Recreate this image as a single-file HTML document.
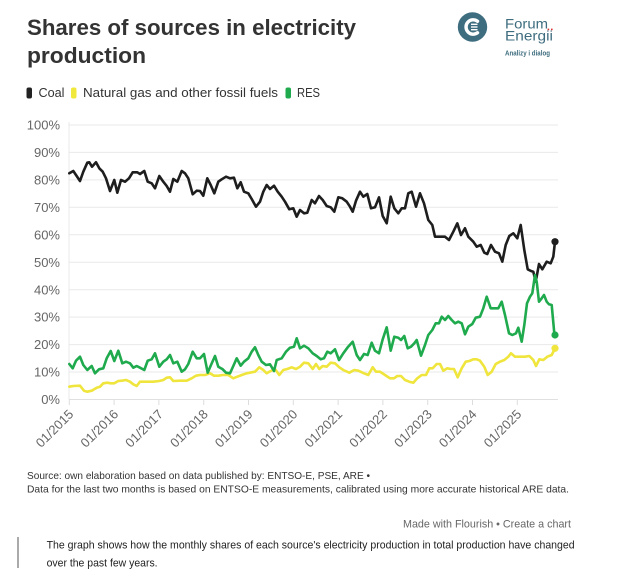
<!DOCTYPE html>
<html><head><meta charset="utf-8"><style>
html,body{margin:0;padding:0;background:#fff;}
svg{display:block;}
text{font-family:"Liberation Sans",sans-serif;}
</style></head><body>
<svg width="619" height="582" viewBox="0 0 619 582" xmlns="http://www.w3.org/2000/svg">
<rect width="619" height="582" fill="#fff"/>
<!-- Title -->
<text x="27" y="35" font-size="22" font-weight="bold" fill="#333" textLength="329" lengthAdjust="spacingAndGlyphs">Shares of sources in electricity</text>
<text x="27" y="63" font-size="22" font-weight="bold" fill="#333" textLength="119" lengthAdjust="spacingAndGlyphs">production</text>
<!-- Logo -->
<circle cx="472.5" cy="27" r="14.7" fill="#3e6d7f"/>
<path d="M477.5 21.2 A7.2 7.2 0 1 0 477.5 32.8" fill="none" stroke="#fff" stroke-width="3.4" stroke-linecap="round"/>
<rect x="471" y="23.6" width="6.5" height="1.4" fill="#fff"/>
<rect x="471" y="26.3" width="6.5" height="1.4" fill="#fff"/>
<rect x="471" y="29" width="6.5" height="1.4" fill="#fff"/>
<text x="505" y="28.3" font-size="14" fill="#3e6d7f" textLength="43" lengthAdjust="spacingAndGlyphs">Forum</text>
<text x="505" y="40.5" font-size="14" fill="#3e6d7f" textLength="48" lengthAdjust="spacingAndGlyphs">Energii</text>
<rect x="547.6" y="28.6" width="1.6" height="1.6" fill="#d33"/>
<rect x="551" y="28.6" width="1.6" height="1.6" fill="#d33"/>
<text x="505" y="55.5" font-size="7.5" font-weight="bold" fill="#3e6d7f" textLength="45" lengthAdjust="spacingAndGlyphs">Analizy i dialog</text>
<!-- Legend -->
<rect x="26.5" y="87.5" width="5.5" height="11" rx="2" fill="#222"/>
<text x="38.5" y="97" font-size="13" fill="#333" textLength="26" lengthAdjust="spacingAndGlyphs">Coal</text>
<rect x="71" y="87.5" width="5.5" height="11" rx="2" fill="#f0e83a"/>
<text x="83" y="97" font-size="13" fill="#333" textLength="195" lengthAdjust="spacingAndGlyphs">Natural gas and other fossil fuels</text>
<rect x="285.5" y="87.5" width="5.5" height="11" rx="2" fill="#1faa4d"/>
<text x="297" y="97" font-size="13" fill="#333" textLength="23" lengthAdjust="spacingAndGlyphs">RES</text>
<!-- Grid -->
<g stroke="#e9e9e9" stroke-width="1">
<line x1="69" y1="125" x2="558" y2="125"/>
<line x1="69" y1="152.4" x2="558" y2="152.4"/>
<line x1="69" y1="179.9" x2="558" y2="179.9"/>
<line x1="69" y1="207.3" x2="558" y2="207.3"/>
<line x1="69" y1="234.8" x2="558" y2="234.8"/>
<line x1="69" y1="262.2" x2="558" y2="262.2"/>
<line x1="69" y1="289.7" x2="558" y2="289.7"/>
<line x1="69" y1="317.1" x2="558" y2="317.1"/>
<line x1="69" y1="344.6" x2="558" y2="344.6"/>
<line x1="69" y1="372" x2="558" y2="372"/>
<line x1="69" y1="122" x2="69" y2="399.5"/>
</g>
<line x1="69" y1="399.5" x2="558" y2="399.5" stroke="#e0e0e0" stroke-width="1"/>
<g stroke="#ddd" stroke-width="1">
<line x1="69.3" y1="399.5" x2="69.3" y2="405"/>
<line x1="114.1" y1="399.5" x2="114.1" y2="405"/>
<line x1="158.9" y1="399.5" x2="158.9" y2="405"/>
<line x1="203.7" y1="399.5" x2="203.7" y2="405"/>
<line x1="248.5" y1="399.5" x2="248.5" y2="405"/>
<line x1="293.3" y1="399.5" x2="293.3" y2="405"/>
<line x1="338.1" y1="399.5" x2="338.1" y2="405"/>
<line x1="382.9" y1="399.5" x2="382.9" y2="405"/>
<line x1="427.7" y1="399.5" x2="427.7" y2="405"/>
<line x1="472.5" y1="399.5" x2="472.5" y2="405"/>
<line x1="517.3" y1="399.5" x2="517.3" y2="405"/>
</g>
<!-- Y labels -->
<g font-size="13" fill="#666" text-anchor="end">
<text x="60" y="129.6">100%</text>
<text x="60" y="157">90%</text>
<text x="60" y="184.5">80%</text>
<text x="60" y="211.9">70%</text>
<text x="60" y="239.4">60%</text>
<text x="60" y="266.8">50%</text>
<text x="60" y="294.3">40%</text>
<text x="60" y="321.7">30%</text>
<text x="60" y="349.2">20%</text>
<text x="60" y="376.6">10%</text>
<text x="60" y="404.1">0%</text>
</g>
<!-- X labels -->
<g font-size="13" fill="#666" text-anchor="end">
<text transform="translate(74.3,415) rotate(-45)" textLength="47" lengthAdjust="spacingAndGlyphs">01/2015</text>
<text transform="translate(119.1,415) rotate(-45)" textLength="47" lengthAdjust="spacingAndGlyphs">01/2016</text>
<text transform="translate(163.9,415) rotate(-45)" textLength="47" lengthAdjust="spacingAndGlyphs">01/2017</text>
<text transform="translate(208.7,415) rotate(-45)" textLength="47" lengthAdjust="spacingAndGlyphs">01/2018</text>
<text transform="translate(253.5,415) rotate(-45)" textLength="47" lengthAdjust="spacingAndGlyphs">01/2019</text>
<text transform="translate(298.3,415) rotate(-45)" textLength="47" lengthAdjust="spacingAndGlyphs">01/2020</text>
<text transform="translate(343.1,415) rotate(-45)" textLength="47" lengthAdjust="spacingAndGlyphs">01/2021</text>
<text transform="translate(387.9,415) rotate(-45)" textLength="47" lengthAdjust="spacingAndGlyphs">01/2022</text>
<text transform="translate(432.7,415) rotate(-45)" textLength="47" lengthAdjust="spacingAndGlyphs">01/2023</text>
<text transform="translate(477.5,415) rotate(-45)" textLength="47" lengthAdjust="spacingAndGlyphs">01/2024</text>
<text transform="translate(522.3,415) rotate(-45)" textLength="47" lengthAdjust="spacingAndGlyphs">01/2025</text>
</g>
<!-- Series -->
<g fill="none" stroke-width="2.6" stroke-linejoin="round" stroke-linecap="round">
<polyline stroke="#1e1e1e" points="69.3,173.3 73.3,171 76,175 80,181 83.3,171.7 87.3,162.7 89.3,162.3 92,166.7 96,162.3 99.3,168.3 102.7,171.7 106,178.3 110,191 114.3,180 117.3,192.7 121,180 125,181.7 129,178.3 132.7,172.3 137.3,172.3 140,174 144.3,171 147.7,181.7 151.7,183.3 155,188.3 159.3,176 163.3,181.7 166.7,186 170,191.7 173.3,179 177.3,181.7 181.7,171 185,173.3 188.3,178.3 192.7,194.3 196.7,190.7 200,191 203.3,195.7 207.3,178.3 210.7,185 214.3,193.3 218.3,181.7 221.7,179.3 226,176.7 230,178.3 234,177.7 237.3,188.3 240.7,182.3 244,191.7 248.3,193.3 251.7,199 256,206.7 260,201.7 263.3,191.7 266.7,185 270,189 274,185.7 277.7,191.7 281.7,196.7 285,201.7 289.3,209.3 293.3,208.3 296.7,216.7 300,210 304,213.3 307.3,212.7 311.7,200 315,203.3 319,196 322.7,200 326.7,206 330.7,207.3 334.3,211.7 338.3,197.3 342.3,198.3 346.7,201.7 350,206.7 352.7,211.7 356,200.7 360,191.7 363.3,196.7 367.3,194 371,208.3 375,207.3 379,197.3 382.7,216 386.7,223.3 390.7,196.7 394.3,208.3 398.3,213.3 401.7,208.3 405,208.3 408.3,193.3 411.7,191.7 416,206.7 420,193.3 424,203.3 428.3,220 432.3,225 435,236.7 440,236.7 445,236.7 449,240 453.3,231.7 457.3,223.3 461,235 465,228.3 468.3,236.7 473.3,241.7 476.7,246.7 480.7,245 484.3,252.7 487.3,254 491,245 495,251.7 499,253.3 502.3,261.7 505.7,245 509.3,236 513.3,233.3 517.3,238.3 520.7,225 524.3,250 527.7,269.3 531,271 533.3,271.7 535.7,281.7 539,264 542.3,269.3 546.7,261.7 550.7,263.3 553.3,256.7 555,241.7"/>
<polyline stroke="#efe53c" points="69.3,386.7 73.3,386 80,385.7 84,390.7 87.3,391.7 91.7,390.7 96.7,387.7 100,386.7 103.3,383.3 107.3,382.7 110.7,383.3 114.3,383.3 118.3,381 121.7,380.7 126,380 130,381.7 133.3,384.3 136.7,386 140,381.7 146.7,381.7 153.3,381.7 159.3,381 163.3,380 166.7,377.7 170,377.3 173.3,381 180,380.7 186.7,380.7 191.7,378.3 196,375.7 200,375 205,375 210,373.3 214,375.7 218.3,375.7 222.7,375 228.3,375 233.3,378.3 237.3,376.7 241.7,375 246.7,373.3 251.7,372.3 255,371.7 259.3,367.3 263.3,370 266.7,373.3 270.7,371 275,369 279.3,375 283.3,370 287.3,369 291.7,367.3 296,369 300,366.7 304,362.7 308.3,363.3 312.7,369 316,364 319.3,369 322.7,366 326.7,366.7 330.7,362.7 335,363.3 339.3,367.3 343.3,370 349.3,372.7 354.3,370 358.3,370.7 364,373.3 368.3,375 372.7,367.3 376,371.7 380,371.7 385,375 390,378.3 394,378.3 397.3,376 401,376 405,380 409.3,381.7 413.3,382.7 417.3,378.3 421.7,375 426,375 429.3,368.3 432.7,368.3 436.7,364 440,364 443.3,370.7 447.3,368.3 450.7,369 454,369 457.7,377.3 461.7,368.3 465.7,361.7 469.3,361 473.3,359.3 476.7,359.3 480,360.7 484.3,366.7 487.7,375 491.7,371.7 495.7,364 500,361.7 504.3,360 508.3,356.7 511,353.3 515,356.7 520,356.7 525,356.7 529.3,356 533.3,360 536,366 539.3,359.3 543.3,360 547.3,356.7 551.7,355 555,348.3"/>
<polyline stroke="#1faa4d" points="69.3,364 72.7,368.3 76,360.7 80,356.7 83.3,365 87.3,370 91.7,366 95,373.3 99,369.3 103.3,368.3 106.7,358.3 110.7,351 114.3,361 118.3,350.7 122.3,363.3 126,361.7 130,363.3 133.3,367.7 136.7,366 140,367.7 144.3,370 147.7,360.7 151.7,359.3 155,353.3 159.3,366.7 163.3,361.7 166.7,359.3 170,355 173.3,363.3 177.3,361.7 181.7,371.7 185,369.3 188.3,364 192.7,351.7 196.7,358.3 200,358.3 204,354 207.7,372.7 211,365 215,356 218.3,366.7 222.7,369.3 226,372.7 230,373.3 233.3,366 236.7,358.3 240.7,365.7 244,361.7 248.3,358.3 251.7,351.7 255,347.3 258.3,355 261.7,361.7 266,365 270,364.3 274,371 276.7,360 281.7,358.3 286,351.7 290,347.7 294,346.7 296.7,338.3 300,348.3 304,345.7 308.3,348.3 312.7,353.3 316.7,356 320.7,359.3 324,358.3 327.3,351.7 330.7,353.3 335,349.3 339,360 343.3,353.3 347.7,347.3 352.7,341.7 356.7,355 360,360 364,354 367.7,355 371.7,342.7 375,350.7 379,353.3 382.7,339.3 386.7,327.3 390.7,350.7 394.3,336.7 398.3,337.7 401,340 404.3,336 407.7,348.3 411,346.7 414.3,343.3 416.7,340 421,355.7 425,345 428.3,335 432.3,330 435.7,323.3 439,323.3 441.7,316.7 445,320 448.3,316 451.7,320 455,323.3 458.3,321.7 461.7,323.3 465,334.3 468.3,326.7 472.3,324 475.7,317.7 480,316.7 483.3,308.3 486.7,296.7 490.7,308.3 495,308.3 498.3,308.3 501.7,301.7 505,315 509,333.3 512.3,335 516,333.3 518.3,327.7 521.7,341.7 524.3,325 527,303.3 530,296.7 532.3,293.3 535,275 536.7,281.7 539,301.7 541.7,298.3 544,295 546.7,301.7 549,304.3 551.7,305 554.3,333.3 555,335"/>
</g>
<circle cx="555" cy="241.7" r="3.6" fill="#1e1e1e"/>
<circle cx="555" cy="348.3" r="3.6" fill="#efe53c"/>
<circle cx="555" cy="335" r="3.6" fill="#1faa4d"/>
<!-- Footer -->
<text x="27" y="479" font-size="10.5" fill="#333" textLength="343" lengthAdjust="spacingAndGlyphs">Source: own elaboration based on data published by: ENTSO-E, PSE, ARE •</text>
<text x="27" y="492.5" font-size="10.5" fill="#333" textLength="542" lengthAdjust="spacingAndGlyphs">Data for the last two months is based on ENTSO-E measurements, calibrated using more accurate historical ARE data.</text>
<text x="403" y="527.3" font-size="11" fill="#666" textLength="168" lengthAdjust="spacingAndGlyphs">Made with Flourish • Create a chart</text>
<line x1="18" y1="537" x2="18" y2="568" stroke="#555" stroke-width="1"/>
<text x="46.6" y="548.3" font-size="11" fill="#222" textLength="528" lengthAdjust="spacingAndGlyphs">The graph shows how the monthly shares of each source's electricity production in total production have changed</text>
<text x="46.6" y="566.3" font-size="11" fill="#222" textLength="111" lengthAdjust="spacingAndGlyphs">over the past few years.</text>
</svg>
</body></html>
